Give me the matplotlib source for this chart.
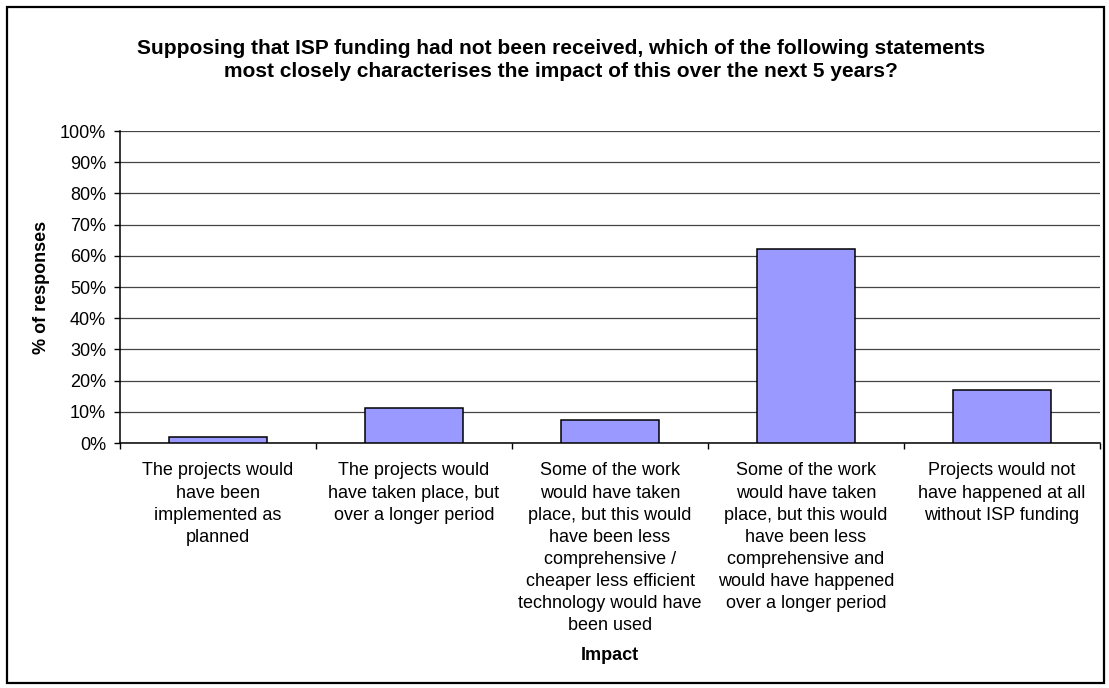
import matplotlib.pyplot as plt
from matplotlib.patches import Rectangle
from matplotlib.ticker import PercentFormatter

plt.rcParams["font.family"] = ["Liberation Sans", "DejaVu Sans"]
plt.rcParams["font.size"] = 13

# survey answers and share of responses (%)
impacts = [
    "The projects would\nhave been\nimplemented as\nplanned",
    "The projects would\nhave taken place, but\nover a longer period",
    "Some of the work\nwould have taken\nplace, but this would\nhave been less\ncomprehensive /\n"
    "cheaper less efficient\ntechnology would have\nbeen used",
    "Some of the work\nwould have taken\nplace, but this would\nhave been less\n"
    "comprehensive and\nwould have happened\nover a longer period",
    "Projects would not\nhave happened at all\nwithout ISP funding",
]
responses = [1.9, 11.3, 7.5, 62.3, 17.0]
y_ticks = list(range(0, 101, 10))

title = ("Supposing that ISP funding had not been received, which of the following statements\n"
         "most closely characterises the impact of this over the next 5 years?")

W, H = 1109, 688
fig = plt.figure(figsize=(W / 100, H / 100), dpi=100)
ax = fig.add_axes([120 / W, 1 - 443 / H, 980 / W, 312 / H])

x = range(len(impacts))
ax.bar(x, responses, width=0.5, color="#9999FF", edgecolor="black", linewidth=1.1, zorder=3)

ax.set_xlim(-0.5, len(impacts) - 0.5)
ax.set_ylim(0, 100)
ax.set_yticks(y_ticks)
ax.yaxis.set_major_formatter(PercentFormatter(decimals=0))
ax.grid(axis="y", color="#444444", linewidth=0.9, zorder=0)

# category labels under the bars, ticks between categories
ax.set_xticks(list(x))
ax.set_xticklabels(impacts, linespacing=1.39)
ax.set_xticks([i - 0.5 for i in range(len(impacts) + 1)], minor=True)
ax.tick_params(axis="x", which="major", length=0, pad=14)
ax.tick_params(axis="x", which="minor", length=4.5, width=1, direction="out")
ax.tick_params(axis="y", length=4.5, width=1, pad=5.5)

for side in ["top", "right"]:
    ax.spines[side].set_visible(False)
ax.spines["left"].set_linewidth(1.1)
ax.spines["bottom"].set_linewidth(1.1)

fig.text(561 / W, 1 - 60 / H, title, ha="center", va="center",
         fontweight="bold", fontsize=15, linespacing=1.25)
fig.text(42 / W, 1 - 287 / H, "% of responses", rotation=90,
         ha="center", va="center", fontweight="bold", fontsize=13)
fig.text(610 / W, 1 - 656 / H, "Impact", ha="center", va="center",
         fontweight="bold", fontsize=13)

# outer chart border
fig.patches.append(Rectangle((7 / W, 1 - 683 / H), 1097 / W, 676 / H,
                             transform=fig.transFigure, fill=False,
                             edgecolor="black", linewidth=1.6))

plt.savefig("out.png", dpi=100)
